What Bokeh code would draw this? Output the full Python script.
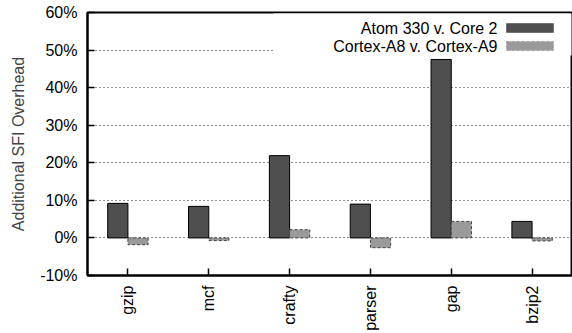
import numpy as np
from bokeh.plotting import figure
from bokeh.models import (Range1d, FixedTicker, LinearAxis, BoxAnnotation, Label,
                          ColumnDataSource, Grid)
from bokeh.transform import dodge
from bokeh.embed import file_html
from bokeh.resources import INLINE

benchmarks = ["gzip", "mcf", "crafty", "parser", "gap", "bzip2"]
atom_vs_core2 = [9.2, 8.4, 21.9, 9.0, 47.5, 4.4]
a8_vs_a9 = [-1.8, -0.7, 2.2, -2.6, 4.4, -0.8]
series_names = ["Atom 330 v. Core 2", "Cortex-A8 v. Cortex-A9"]
y_ticks = [-10, 0, 10, 20, 30, 40, 50, 60]
y_tick_labels = ["-10%", "0%", "10%", "20%", "30%", "40%", "50%", "60%"]
y_title = "Additional SFI Overhead"

FONT = "Liberation Sans"
FS = "16px"
DARK = "#4f4f4f"
LIGHT = "#9a9a9a"

pos = list(range(1, len(benchmarks) + 1))

p = figure(width=572, height=333, output_backend="svg", toolbar_location=None,
           x_range=Range1d(0.5, 6.5), y_range=Range1d(-10, 60),
           min_border_left=87, min_border_top=12, min_border_bottom=58,
           min_border_right=0, x_axis_type=None, y_axis_type=None)
p.outline_line_color = "black"
p.outline_line_width = 2
p.background_fill_color = "white"
p.border_fill_color = "white"

def style(ax):
    ax.axis_line_color = "black"
    ax.axis_line_width = 2
    ax.major_tick_line_color = "black"
    ax.major_tick_line_width = 1.5
    ax.major_tick_in = 7
    ax.major_tick_out = 0
    ax.minor_tick_line_color = None
    ax.major_label_text_font = FONT
    ax.major_label_text_font_size = FS
    ax.major_label_text_color = "black"

xb = LinearAxis(ticker=FixedTicker(ticks=pos))
style(xb)
xb.major_label_overrides = {k: v for k, v in zip(pos, benchmarks)}
xb.major_label_orientation = np.pi / 2
xb.major_label_standoff = 10
p.add_layout(xb, "below")

yl = LinearAxis(ticker=FixedTicker(ticks=y_ticks))
style(yl)
yl.major_label_overrides = {k: v for k, v in zip(y_ticks, y_tick_labels)}
yl.major_label_standoff = 10
yl.axis_label = y_title
yl.axis_label_text_font = FONT
yl.axis_label_text_font_size = FS
yl.axis_label_text_font_style = "normal"
yl.axis_label_standoff = 10
p.add_layout(yl, "left")

g = Grid(dimension=1, ticker=FixedTicker(ticks=y_ticks))
g.grid_line_color = "#222222"
g.grid_line_dash = "1 3"
g.grid_line_width = 1
p.add_layout(g)

src = ColumnDataSource(dict(x=pos, a=atom_vs_core2, b=a8_vs_a9))
p.vbar(x=dodge("x", -0.125, range=p.x_range), top="a", bottom=0, width=0.25,
       source=src, fill_color=DARK, line_color="black", line_width=1)
p.vbar(x=dodge("x", 0.125, range=p.x_range), top="b", bottom=0, width=0.25,
       source=src, fill_color=LIGHT, line_color="#444444", line_width=1,
       line_dash="3 2")

# legend (gnuplot style: text then key)
p.add_layout(BoxAnnotation(left=273, right=571, top=13, bottom=55,
                           left_units="canvas", right_units="canvas",
                           top_units="canvas", bottom_units="canvas",
                           fill_color="white", fill_alpha=1, line_color=None,
                           level="annotation"))
for i, (name, fc, lc, dash) in enumerate([(series_names[0], DARK, "black", "solid"),
                                          (series_names[1], LIGHT, "#444444", "3 2")]):
    yc = 27.5 + 18 * i
    p.add_layout(Label(x=497, y=yc, x_units="canvas", y_units="canvas", text=name,
                       text_align="right", text_baseline="middle",
                       text_font=FONT, text_font_size=FS, text_color="black"))
    p.add_layout(BoxAnnotation(left=506, right=553, top=yc - 4.5, bottom=yc + 4.5,
                               left_units="canvas", right_units="canvas",
                               top_units="canvas", bottom_units="canvas",
                               fill_color=fc, fill_alpha=1, line_color=lc,
                               line_width=1, line_dash=dash, level="annotation"))

open("out.html", "w").write(file_html(p, INLINE))
